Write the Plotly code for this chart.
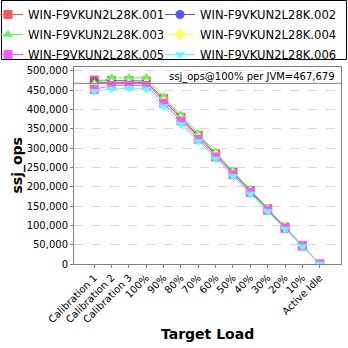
import plotly.graph_objects as go

categories = ["Calibration 1", "Calibration 2", "Calibration 3", "100%", "90%", "80%", "70%",
              "60%", "50%", "40%", "30%", "20%", "10%", "Active Idle"]

s001 = [476000, 475000, 475000, 474000, 428000, 380000, 333000, 285000, 238000, 190000, 143000, 95500, 47800, 0]
s002 = [470000, 471000, 471000, 470000, 424000, 377000, 330000, 283000, 236000, 189000, 141000, 94000, 47000, 0]
s003 = [468000, 482000, 482000, 482000, 433000, 386000, 338000, 289000, 241000, 193000, 145000, 96500, 48200, 0]
s004 = [460000, 465000, 466000, 466000, 419000, 373000, 326000, 280000, 233000, 186000, 140000, 93000, 46600, 0]
s005 = [452000, 462000, 463000, 462000, 416000, 370000, 323000, 277000, 231000, 185000, 139000, 92400, 46200, 0]
s006 = [447000, 454000, 455000, 453000, 408000, 362000, 317000, 272000, 227000, 181000, 136000, 90600, 45300, 0]

names = ["WIN-F9VKUN2L28K.001", "WIN-F9VKUN2L28K.002", "WIN-F9VKUN2L28K.003",
         "WIN-F9VKUN2L28K.004", "WIN-F9VKUN2L28K.005", "WIN-F9VKUN2L28K.006"]
series = [s001, s002, s003, s004, s005, s006]
colors = ["#ff5555", "#5555ff", "#55ff55", "#ffff55", "#ff55ff", "#55ffff"]
symbols = ["square", "circle", "triangle-up", "diamond", "square", "triangle-down"]

ref_value = 467679

W, H = 348, 348
L, R, T, B = 74, 7, 67, 84
PW, PH = W - L - R, H - T - B


def px_x(p):
    return (p - L) / PW


def px_y(p):
    return (H - B - p) / PH


fig = go.Figure()
for i, (n, s, c, m) in enumerate(zip(names, series, colors, symbols)):
    fig.add_trace(go.Scatter(
        x=categories, y=s, name=n, mode="lines+markers",
        line=dict(color=c, width=1),
        marker=dict(symbol=m, size=9, color=c),
        legend="legend" if i % 2 == 0 else "legend2",
        legendgroup=n,
    ))

fig.add_hline(y=ref_value, line=dict(color="#808080", width=1))
fig.add_annotation(
    xref="paper", yref="y", x=0.985, y=ref_value, xanchor="right", yanchor="bottom",
    text="ssj_ops@100% per JVM=467,679", showarrow=False,
    font=dict(family="DejaVu Sans", size=10, color="#000000"), yshift=-2,
)
fig.add_annotation(
    xref="paper", yref="paper", x=0.5, y=px_y(334), xanchor="center", yanchor="middle",
    text="<b>Target Load</b>", showarrow=False,
    font=dict(family="DejaVu Sans", size=14, color="#000000"),
)
fig.add_annotation(
    xref="paper", yref="paper", x=px_x(17), y=0.5, xanchor="center", yanchor="middle",
    text="<b>ssj_ops</b>", showarrow=False, textangle=-90,
    font=dict(family="DejaVu Sans", size=14, color="#000000"),
)

# legend frame
fig.add_shape(type="rect", xref="paper", yref="paper",
              x0=px_x(1.5), x1=px_x(346.5), y0=px_y(59.5), y1=px_y(0.5),
              line=dict(color="#000000", width=1), fillcolor="rgba(0,0,0,0)", layer="above")

leg_common = dict(
    orientation="v", yref="paper", y=px_y(0), yanchor="top", xref="paper", xanchor="left",
    bgcolor="rgba(0,0,0,0)", borderwidth=0,
    font=dict(size=11.6, family="DejaVu Sans"), tracegroupgap=1, itemwidth=30,
)

fig.update_layout(
    width=W, height=H,
    margin=dict(l=L, r=R, t=T, b=B, autoexpand=False),
    paper_bgcolor="white", plot_bgcolor="white",
    font=dict(family="DejaVu Sans", color="#000000"),
    showlegend=True,
    legend=dict(x=px_x(-12), **leg_common),
    legend2=dict(x=px_x(160), **leg_common),
    xaxis=dict(
        type="category", range=[-1.17, 14.23], automargin=False,
        tickangle=-45, tickfont=dict(size=10),
        showgrid=False, showline=True, linecolor="#808080", mirror=True,
        ticks="outside", ticklen=3, tickcolor="#808080",
    ),
    yaxis=dict(
        range=[0, 510000], tickvals=list(range(0, 500001, 50000)), automargin=False,
        tickformat=",d", tickfont=dict(size=10),
        showgrid=True, gridcolor="#d9d9d9", griddash="dash",
        showline=True, linecolor="#808080", mirror=True,
        ticks="outside", ticklen=3, tickcolor="#808080",
        zeroline=False,
    ),
)

fig.write_html("out.html", config={"displayModeBar": False},
               post_script="document.body.style.margin='0';document.body.style.overflow='hidden';")
